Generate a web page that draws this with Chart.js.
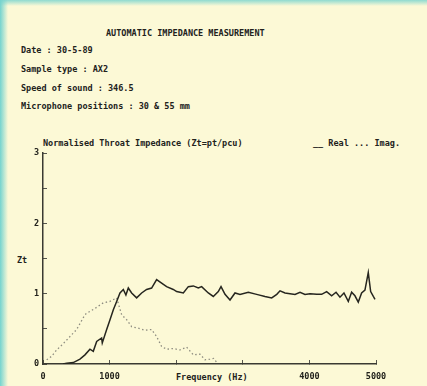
<!DOCTYPE html>
<html>
<head>
<meta charset="utf-8">
<script src="https://cdn.jsdelivr.net/npm/chart.js@4.4.1/dist/chart.umd.min.js"></script>
<style>
    html, body {
        margin: 0;
        padding: 0;
    }
    body {
        width: 427px;
        height: 386px;
        position: relative;
        overflow: hidden;
        background:
            linear-gradient(to right, #74d3cf 0px, rgba(252, 249, 214, 0) 8px),
            linear-gradient(to bottom, #8fdad0 0px, rgba(252, 249, 214, 0) 6px),
            #fcf9d6;
        font-family: 'DejaVu Sans Mono', monospace;
        font-size: 8.5px;
        font-weight: bold;
        color: #22221c;
    }
    canvas {
        position: absolute;
        left: 0;
        top: 0;
    }
    .txt {
        position: absolute;
        line-height: 10px;
        white-space: pre;
    }
</style>
</head>
<body>
<div class="txt" style="left:106px; top:28px">AUTOMATIC IMPEDANCE MEASUREMENT</div>
<div class="txt" style="left:21px; top:45px">Date : 30-5-89</div>
<div class="txt" style="left:21px; top:64px">Sample type : AX2</div>
<div class="txt" style="left:21px; top:83px">Speed of sound : 346.5</div>
<div class="txt" style="left:21px; top:101px">Microphone positions : 30 &amp; 55 mm</div>
<div class="txt" style="left:43px; top:138px">Normalised Throat Impedance (Zt=pt/pcu)</div>
<div class="txt" style="left:313px; top:138px">__ Real ... Imag.</div>
<div class="txt" style="left:17px; top:255px">Zt</div>
<div class="txt" style="left:176px; top:372px">Frequency (Hz)</div>
<canvas id="impedanceChart" width="427" height="386"></canvas>
<script>
// Real part of Zt against frequency (Hz)
const realFreq = [
    300, 356, 455, 555, 630, 705, 755, 806, 880, 890, 956, 1006, 1056, 1106,
    1156, 1206, 1245, 1281, 1331, 1406, 1481, 1556, 1631, 1706, 1781, 1856,
    1956, 2007, 2107, 2182, 2257, 2332, 2382, 2482, 2557, 2632, 2673, 2733,
    2808, 2883, 2958, 3082, 3208, 3333, 3434, 3510, 3559, 3634, 3709, 3784,
    3859, 3934, 4009, 4109, 4184, 4259, 4334, 4400, 4459, 4519, 4584, 4634,
    4684, 4734, 4784, 4834, 4884, 4920, 4960, 4985,
]
const realValues = [
    0, 0.01, 0.02, 0.07, 0.13, 0.21, 0.18, 0.32, 0.37, 0.3, 0.49, 0.63, 0.77,
    0.89, 1.01, 1.06, 0.98, 1.08, 1.01, 0.94, 1.01, 1.06, 1.08, 1.2, 1.15, 1.1,
    1.06, 1.03, 1.01, 1.1, 1.11, 1.08, 1.1, 1.01, 0.96, 1.03, 1.1, 0.99, 0.91,
    1.01, 0.99, 1.02, 0.99, 0.96, 0.94, 0.99, 1.04, 1.01, 1.0, 0.99, 1.02,
    0.99, 1.0, 0.99, 0.99, 1.03, 0.97, 1.02, 0.95, 1.01, 0.89, 1.02, 0.97,
    0.88, 1.01, 1.05, 1.3, 1.03, 0.96, 0.92,
]

// Imaginary part of Zt against frequency (Hz)
const imagFreq = [
    55, 130, 205, 305, 405, 505, 630, 655, 780, 905, 1006, 1106, 1181, 1256,
    1331, 1431, 1531, 1631, 1706, 1781, 1856, 1956, 2057, 2157, 2257, 2357,
    2432, 2507, 2560, 2620,
]
const imagValues = [
    0.06, 0.11, 0.2, 0.29, 0.39, 0.49, 0.7, 0.72, 0.79, 0.87, 0.89, 0.94, 0.7,
    0.63, 0.53, 0.51, 0.48, 0.49, 0.39, 0.25, 0.21, 0.22, 0.2, 0.24, 0.13,
    0.14, 0.06, 0.07, 0.08, 0.01,
]

const freqTicks = [0, 1000, 4000, 5000]

const toPoints = (xs, ys) => xs.map((x, i) => ({ x: x, y: ys[i] }))

Chart.defaults.color = '#22221c'
Chart.defaults.font = {
    family: "'DejaVu Sans Mono', monospace",
    size: 8.5,
    weight: 'bold',
}

const ctx = document.querySelector('#impedanceChart').getContext('2d')

const impedanceChart = new Chart(ctx, {
    type: 'line',
    data: {
        datasets: [
            {
                label: 'Real',
                data: toPoints(realFreq, realValues),
                borderColor: '#26261f',
                borderWidth: 1.5,
                pointRadius: 0,
                tension: 0,
            },
            {
                label: 'Imag.',
                data: toPoints(imagFreq, imagValues),
                borderColor: '#8e8d80',
                borderWidth: 1.3,
                borderDash: [1.5, 2.5],
                pointRadius: 0,
                tension: 0,
            },
        ],
    },
    options: {
        responsive: false,
        animation: false,
        devicePixelRatio: 1,
        layout: {
            padding: { left: 0, top: 153, right: 51, bottom: 0 },
        },
        plugins: {
            legend: false,
            tooltip: false,
        },
        scales: {
            x: {
                type: 'linear',
                min: 0,
                max: 5000,
                afterFit: (scale) => {
                    scale.height = 22
                },
                grid: {
                    drawOnChartArea: false,
                    tickLength: -4,
                    color: '#55554c',
                    lineWidth: 1,
                },
                border: {
                    color: '#3a3a32',
                    width: 1.5,
                },
                ticks: {
                    stepSize: 1000,
                    autoSkip: false,
                    maxRotation: 0,
                    padding: 12,
                    callback: (value) =>
                        freqTicks.includes(value) ? String(value) : '',
                },
            },
            y: {
                min: 0,
                max: 3,
                afterFit: (scale) => {
                    scale.width = 43
                },
                grid: {
                    drawOnChartArea: false,
                    tickLength: -4,
                    color: '#55554c',
                    lineWidth: 1,
                },
                border: {
                    color: '#3a3a32',
                    width: 1.5,
                },
                ticks: {
                    stepSize: 0.5,
                    padding: 8,
                    callback: (value) => (value % 1 === 0 ? String(value) : ''),
                },
            },
        },
    },
})
</script>
</body>
</html>
